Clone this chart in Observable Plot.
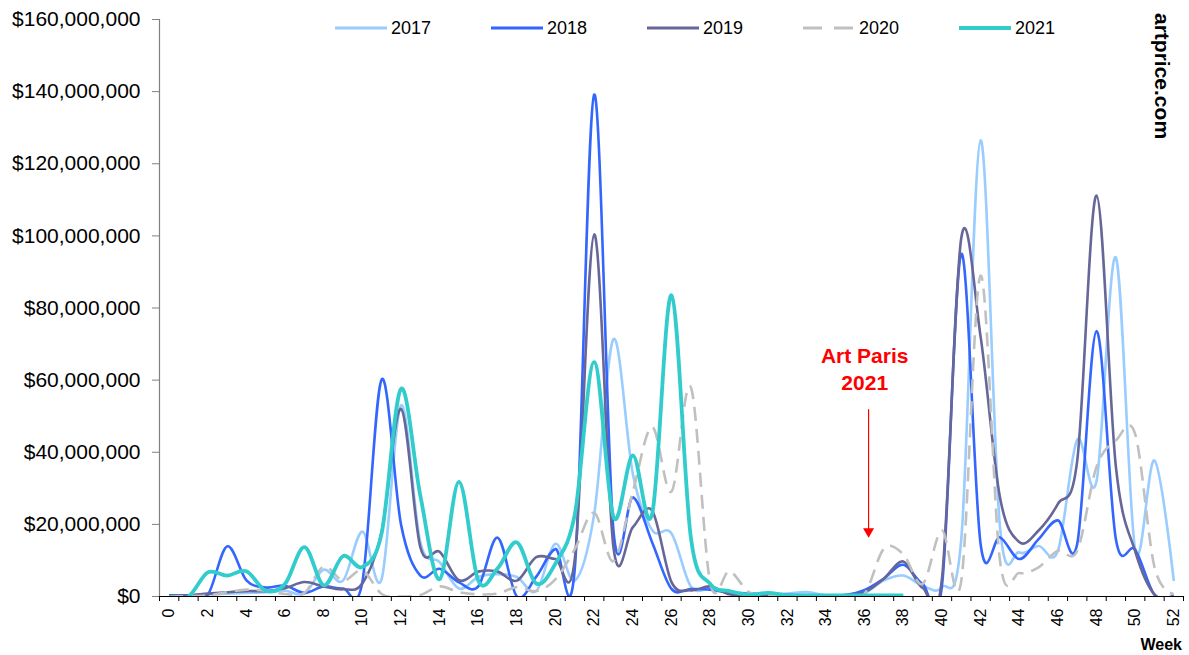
<!DOCTYPE html>
<html>
<head>
<meta charset="utf-8">
<script src="https://cdn.jsdelivr.net/npm/d3@7"></script>
<script src="https://cdn.jsdelivr.net/npm/@observablehq/plot@0.6"></script>
<style>
  body { margin: 0; background: #fff; font-family: "Liberation Sans", Arial, sans-serif; }
  #wrap { position: relative; width: 1189px; height: 655px; overflow: hidden; }
  .leg { position: absolute; top: 17px; height: 22px; display: flex; align-items: center; }
  .leg svg { display: block; }
  .leg span { display: inline-block; font-size: 18px; color: #000; margin-left: 4px; }
  #mark { position: absolute; left: 1150px; top: 13px; writing-mode: vertical-rl; font-weight: bold; font-size: 21px; color: #000; }
  #week { position: absolute; right: 7px; top: 636px; font-weight: bold; font-size: 16px; color: #000; }
</style>
</head>
<body>
<div id="wrap"></div>
<script>
// ---- data (values in US$ millions) ----
const weeks = d3.range(0, 53);
const years = ["2017", "2018", "2019", "2020", "2021"];
const colors = ["#99CCFF", "#3366FF", "#666699", "#C0C0C0", "#33CCCC"];

const s2017 = [0.3,0.3,0.5,0.8,1.0,1.2,1.6,0.8,7.4,4.4,18,4.9,53,15,9.5,2.2,5.4,6.2,5.4,1.5,14.6,4.4,22.9,71.4,34,18.4,17.5,2.8,2.2,1.5,0.8,0.7,0.8,1.2,0.3,0.3,1.0,4.5,5.8,3.0,2.6,16,126.5,19.4,12.2,14.0,12.7,43.5,32,94,13,37.7,4.3];
const s2018 = [0.3,0.3,0.5,13.9,4.5,2.5,3.0,1.0,2.8,2.2,4,60.2,20,5.8,7.7,3.9,2.8,16.3,0,5.5,13.2,8.1,139.2,18,27.5,15,2.1,2.1,1.9,1.0,0.8,0.6,0.4,0.3,0.3,0.4,1.8,5,8.8,3.5,3.0,95,14.5,16.4,10.4,15.9,21.1,14.6,73.6,15.9,13,0.5,0.3];
const s2019 = [0.2,0.3,0.8,1.2,1.5,1.5,2.3,4.0,2.8,2.0,3.6,18,52,13.7,12.4,4.5,6.9,6.9,4.4,10.9,10.4,10.6,100.4,13.5,19.2,23.8,4,1.7,2.8,0.6,0.4,0.4,0.4,0.3,0.3,0.4,1.2,5,9.7,2.4,5,99.5,72,27.5,15.1,18.3,25.7,37.7,111.2,36,12.5,0.5,0];
const s2020 = [0,0.1,0.3,1.2,1.9,1.6,0.7,1.0,8.3,4.4,7.2,0.7,0,0.4,2.8,1.2,0.6,0.8,2.6,1.5,4.8,13.2,23.2,9.8,29.1,47,29.1,58,4,7,1.2,0.3,0.2,0.2,0.2,0.2,0.8,13.3,11.7,3.5,18.3,4.4,89,10,6.5,8.1,12.7,12.7,36,43.3,45,8.1,0.7];
const s2021 = [0,0,6.7,5.8,7.0,1.6,3.5,13.7,3.1,11.2,8.2,17.6,57.6,28,4.8,31.8,4.4,7.8,15,3.6,9.2,22.9,65,22,39.1,22.9,83.5,16.4,3.5,1.5,0.5,1.0,0.3,0.3,0.3,0.3,0.3,0.3,0.3];

const yTicks = [0, 20e6, 40e6, 60e6, 80e6, 100e6, 120e6, 140e6, 160e6];
const weekLabels = d3.range(0, 53, 2);
const annotation = [{week: 36.2, textWeek: 36.0, label: "Art Paris\n2021", textY: 63.5e6, top: 51.8e6, tip: 16.4e6}];

// ---- build ----
const seriesValues = [s2017, s2018, s2019, s2020, s2021];
const series = years.map((y, i) => seriesValues[i].map((v, j) => ({year: y, week: weeks[j], value: v * 1e6})));

const lineStyle = [
  {strokeWidth: 2.6},
  {strokeWidth: 2.6},
  {strokeWidth: 2.6},
  {strokeWidth: 2.6, strokeDasharray: "14,8"},
  {strokeWidth: 3.8}
];

const chart = Plot.plot({
  width: 1189,
  height: 655,
  marginLeft: 159,
  marginRight: 6,
  marginTop: 19,
  marginBottom: 59,
  style: {fontFamily: "'Liberation Sans', Arial, sans-serif", background: "#fff", color: "#000"},
  x: {domain: [-0.5, 52.5]},
  y: {domain: [0, 160e6]},
  marks: [
    Plot.axisY({ticks: yTicks, tickFormat: d3.format("$,"), tickSize: 7, tickPadding: 12, fontSize: 21, stroke: "#808080", label: null}),
    Plot.axisX({ticks: weekLabels, tickSize: 0, tickPadding: 12, tickRotate: -90, fontSize: 16, label: null}),
    Plot.axisX({ticks: d3.range(-0.5, 53, 1), tickSize: 5, tickFormat: () => "", label: null, stroke: "#000"}),
    ...series.map((d, i) => Plot.line(d, {
      x: "week", y: "value", stroke: colors[i], curve: "cardinal", clip: true,
      strokeLinejoin: "round", strokeLinecap: "butt", ...lineStyle[i]
    })),
    Plot.frame({anchor: "left", stroke: "#808080", strokeWidth: 1.2}),
    Plot.frame({anchor: "bottom", stroke: "#000", strokeWidth: 1.2}),
    Plot.ruleX(annotation, {x: "week", y1: "top", y2: "tip", stroke: "#FF0000", strokeWidth: 1.2}),
    Plot.dot(annotation, {x: "week", y: "tip", symbol: "triangle", rotate: 180, r: 4.1, fill: "#FF0000", dy: -6}),
    Plot.text(annotation, {x: "textWeek", y: "textY", text: "label", fill: "#FF0000", fontSize: 21, fontWeight: "bold", lineHeight: 1.31})
  ]
});

const wrap = document.getElementById("wrap");
wrap.appendChild(chart);

// legend (inside plot area, top)
years.forEach((y, i) => {
  const item = document.createElement("div");
  item.className = "leg";
  item.style.left = (335 + i * 156) + "px";
  const dash = i === 3 ? ' stroke-dasharray="19,12"' : "";
  const sw = i === 4 ? 3.8 : 2.8;
  item.innerHTML = `<svg width="52" height="22"><line x1="0" x2="52" y1="11" y2="11" stroke="${colors[i]}" stroke-width="${sw}"${dash}/></svg><span>${y}</span>`;
  wrap.appendChild(item);
});

const mark = document.createElement("div");
mark.id = "mark";
mark.textContent = "artprice.com";
wrap.appendChild(mark);

const week = document.createElement("div");
week.id = "week";
week.textContent = "Week";
wrap.appendChild(week);
</script>
</body>
</html>
